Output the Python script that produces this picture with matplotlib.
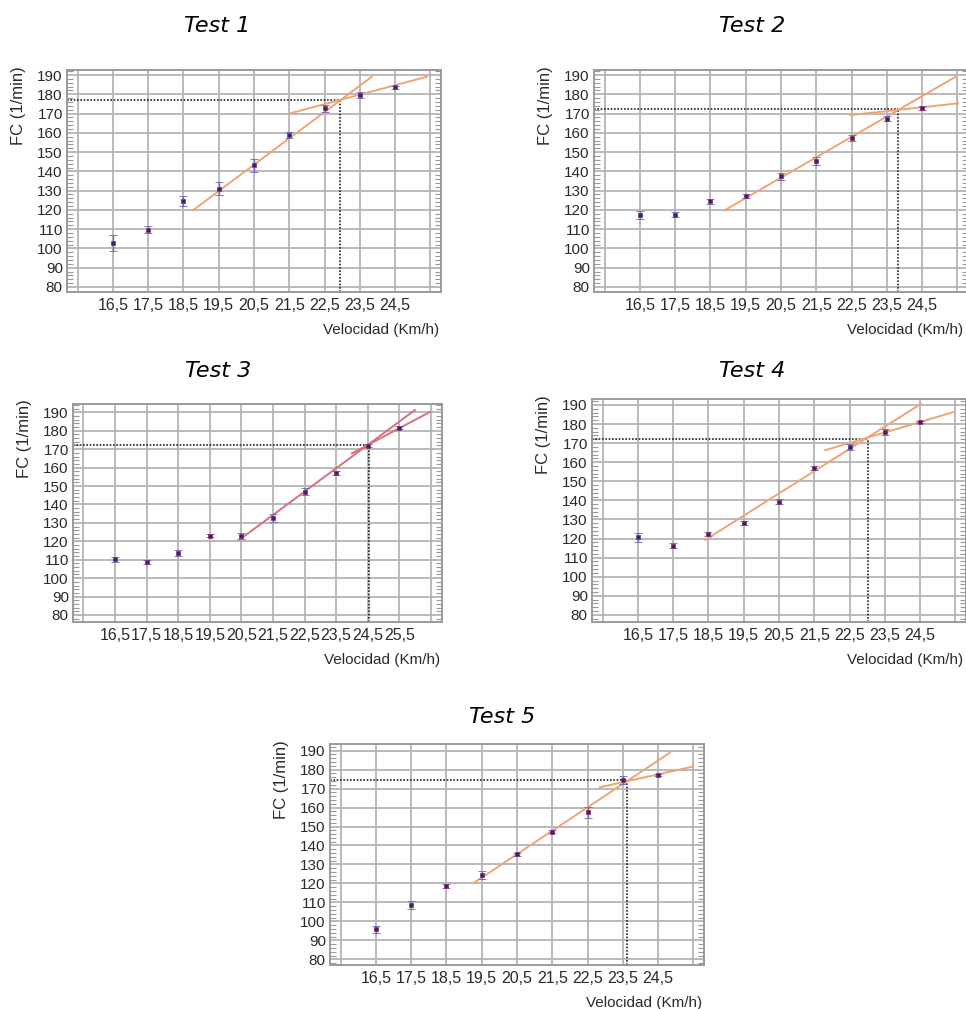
import matplotlib.pyplot as plt
import numpy as np
from matplotlib.ticker import MultipleLocator

# velocidades de cada escalon (km/h)
speeds = [16.5, 17.5, 18.5, 19.5, 20.5, 21.5, 22.5, 23.5, 24.5]
speeds_t3 = [16.5, 17.5, 18.5, 19.5, 20.5, 21.5, 22.5, 23.5, 24.5, 25.5]

# frecuencia cardiaca media y error por escalon
fc1 = [102.8, 109.8, 124.5, 131.1, 143.2, 158.8, 172.7, 179.6, 183.6]
err1 = [4.0, 2.0, 2.7, 3.2, 3.3, 1.6, 1.7, 1.5, 0.9]
fc2 = [117.2, 117.6, 124.5, 127.4, 137.5, 145.3, 157.4, 167.3, 173.0]
err2 = [2.0, 1.5, 1.3, 1.0, 1.8, 2.2, 1.6, 1.2, 1.0]
fc3 = [110.2, 108.6, 113.6, 123.1, 122.9, 132.6, 146.9, 157.1, 171.9, 181.7]
err3 = [1.5, 1.0, 1.5, 1.0, 1.5, 2.0, 2.0, 1.0, 1.0, 0.6]
fc4 = [120.7, 116.3, 122.4, 128.0, 139.2, 157.0, 167.8, 176.0, 181.1]
err4 = [2.3, 1.5, 1.0, 1.0, 1.3, 1.0, 1.5, 1.5, 0.5]
fc5 = [95.8, 108.6, 118.6, 124.4, 135.3, 147.3, 157.5, 174.5, 177.2]
err5 = [2.0, 2.2, 1.0, 2.0, 0.8, 0.8, 2.9, 2.2, 0.5]

# rectas de ajuste (extremos) y punto de deflexion
steep1 = ([18.77, 23.84], [119.8, 189.1])
flat1 = ([21.52, 25.4], [170.1, 189.1])
umbral1 = (22.94, 177.0)
steep2 = ([18.9, 25.45], [119.8, 189.1])
flat2 = ([22.47, 25.52], [169.2, 175.3])
umbral2 = (23.81, 172.2)
steep3 = ([20.46, 25.99], [121.1, 191.2])
flat3 = ([24.0, 26.47], [167.7, 190.2])
umbral3 = (24.53, 172.3)
steep4 = ([18.41, 24.52], [119.3, 190.5])
flat4 = ([21.81, 25.49], [166.3, 186.5])
umbral4 = (23.01, 172.0)
steep5 = ([19.26, 24.83], [120.1, 188.9])
flat5 = ([22.85, 25.49], [170.7, 181.6])
umbral5 = (23.63, 174.3)

W, H = 966, 1009
fig = plt.figure(figsize=(W / 100, H / 100), dpi=100)

tests = [
    # titulo, x, fc, err, recta1, recta2, umbral, caja px (izq, arriba, der, abajo), xlim, ylim, color, pos titulo
    ("Test 1", speeds, fc1, err1, steep1, flat1, umbral1, (67, 70, 441, 292), (15.2, 25.8), (77.4, 192.6), "#f0a474", (217, 32)),
    ("Test 2", speeds, fc2, err2, steep2, flat2, umbral2, (594, 70, 968, 292), (15.2, 25.8), (77.4, 192.6), "#f0a474", (752, 32)),
    ("Test 3", speeds_t3, fc3, err3, steep3, flat3, umbral3, (73, 404, 442, 622), (15.17, 26.85), (76.2, 194.5), "#d8707c", (218, 377)),
    ("Test 4", speeds, fc4, err4, steep4, flat4, umbral4, (592, 399, 966, 622), (15.2, 25.8), (76.3, 193.1), "#f0a474", (752, 377)),
    ("Test 5", speeds, fc5, err5, steep5, flat5, umbral5, (330, 744, 704, 965), (15.2, 25.8), (77.0, 193.5), "#f0a474", (502, 723)),
]

for title, x, fc, err, s1, s2, umb, box, xlim, ylim, lcol, tpos in tests:
    l, t, r, b = box
    ax = fig.add_axes([l / W, 1 - b / H, (r - l) / W, (b - t) / H])
    ax.set_xlim(*xlim)
    ax.set_ylim(*ylim)

    # rejilla cada 1 km/h y cada 10 ppm
    gx = np.arange(15.5, xlim[1], 1.0)
    ax.set_xticks(gx)
    ax.set_xticklabels([f"{v:.1f}".replace(".", ",") if x[0] <= v <= x[-1] else "" for v in gx])
    ax.set_yticks(np.arange(80, 191, 10))
    ax.yaxis.set_minor_locator(MultipleLocator(2))
    ax.grid(True, color="#b4b4b4", lw=1.3, zorder=0)
    ax.tick_params(axis="x", length=0, pad=4, labelsize=11.5, labelcolor="#2a2a2a")
    ax.tick_params(axis="y", which="major", length=0, pad=3, labelsize=11, labelcolor="#2a2a2a")
    ax.tick_params(axis="y", which="minor", direction="in", length=4, width=0.8,
                   color="#999999", left=True, right=True)
    for sp in ax.spines.values():
        sp.set_color("#9a9a9a")
        sp.set_linewidth(1.4)
    for lab in ax.get_xticklabels() + ax.get_yticklabels():
        lab.set_fontfamily("Liberation Sans")

    # lineas punteadas hasta el umbral
    ax.plot([xlim[0], umb[0]], [umb[1], umb[1]], ls=(0, (1, 1)), color="#222222", lw=1.2, zorder=2)
    ax.plot([umb[0], umb[0]], [ylim[0], umb[1]], ls=(0, (1, 1)), color="#222222", lw=1.2, zorder=2)

    # rectas de regresion
    ax.plot(s1[0], s1[1], color=lcol, lw=1.4, zorder=3)
    ax.plot(s2[0], s2[1], color=lcol, lw=1.4, zorder=3)

    ax.errorbar(x, fc, yerr=err, fmt="s", ms=3.5, mfc="#3a2468", mec="#8a3a70", mew=0.6,
                ecolor="#6a66c0", elinewidth=1.0, capsize=3, capthick=1.0, zorder=4)

    ax.set_ylabel("FC (1/min)", fontsize=12, family="Liberation Sans", color="#2a2a2a")
    ax.yaxis.set_label_coords(-41 / (r - l), 0.84)
    xr = min(r - 2, 963)
    ax.text((xr - l) / (r - l), -38 / (b - t), "Velocidad (Km/h)", transform=ax.transAxes,
            ha="right", va="center", fontsize=11, family="Liberation Sans", color="#2a2a2a")

    fig.text(tpos[0] / W, 1 - tpos[1] / H, title, ha="center", va="baseline",
             fontsize=16, style="italic", family="DejaVu Sans")

fig.savefig("out.png", dpi=100)
